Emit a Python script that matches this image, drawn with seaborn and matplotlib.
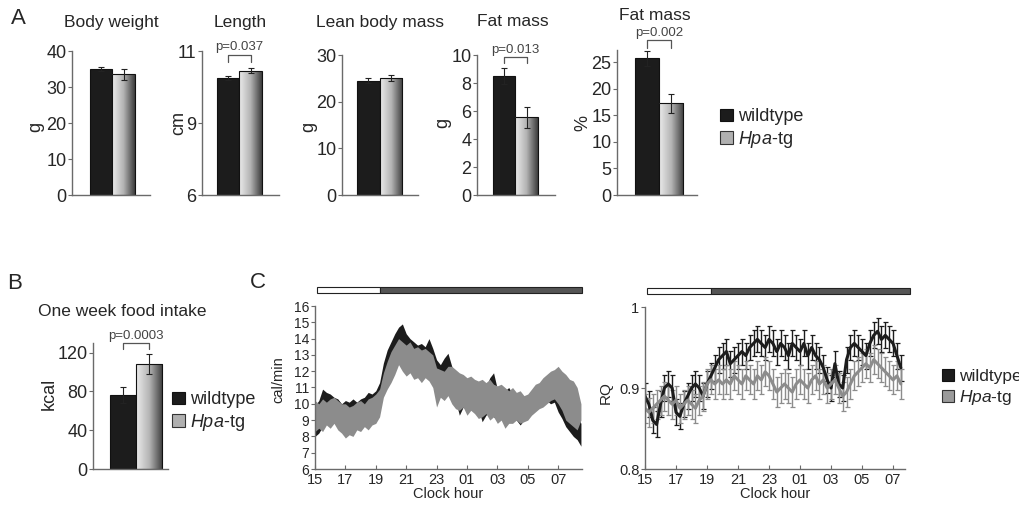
import numpy as np
import pandas as pd
import matplotlib
matplotlib.use('Agg')
import matplotlib.pyplot as plt
from matplotlib.patches import Rectangle, Patch
from matplotlib.colors import LinearSegmentedColormap
import seaborn as sns

# ---- data ----
groups = ['wildtype', 'Hpa-tg']

body_weight = [35.0, 33.5]
body_weight_sem = [0.6, 1.5]
length_cm = [10.06, 10.31]
length_sem = [0.07, 0.09]
lean_mass = [24.5, 25.1]
lean_mass_sem = [0.5, 0.7]
fat_mass_g = [8.5, 5.55]
fat_mass_g_sem = [0.55, 0.73]
fat_mass_pct = [25.7, 17.3]
fat_mass_pct_sem = [1.5, 1.8]
food_intake = [76.5, 108.5]
food_intake_sem = [8.0, 10.5]

# energy expenditure (cal/min), band limits every 15 min from 15:00 to 08:30
ee_hours = np.arange(15, 32.51, 0.25)
ee_wt_low = [8.0, 8.2, 8.6, 8.8, 8.9, 8.9, 8.7, 8.8, 8.9, 8.9, 8.8, 8.8, 9.0, 9.0, 9.1, 9.2,
             9.3, 10.0, 11.0, 11.8, 12.2, 12.6, 13.0, 12.8, 12.5, 12.6, 12.3, 12.4, 12.2, 12.4,
             12.3, 12.0, 11.0, 11.2, 11.5, 11.7, 10.8, 10.2, 9.3, 9.8, 9.6, 9.8, 9.5, 9.7, 8.9,
             9.3, 9.5, 9.2, 9.0, 9.4, 9.1, 9.3, 9.1, 9.0, 8.7, 9.0, 9.4, 9.6, 9.9, 10.0, 10.1,
             10.2, 10.0, 10.1, 9.5, 9.1, 8.6, 8.3, 8.0, 7.8, 7.4]
ee_wt_high = [9.9, 10.2, 10.9, 10.7, 10.6, 10.4, 10.3, 10.0, 10.2, 10.1, 10.3, 10.1, 10.3, 10.4,
              10.7, 10.6, 10.8, 11.3, 12.5, 13.3, 13.8, 14.3, 14.7, 14.9, 14.3, 14.0, 13.8, 13.6,
              13.7, 13.5, 14.0, 13.4, 12.7, 12.4, 12.8, 13.1, 12.3, 11.8, 11.5, 11.2, 11.3, 11.0,
              11.3, 11.0, 10.9, 11.0, 11.6, 11.9, 10.9, 11.0, 10.8, 11.0, 10.6, 10.4, 10.0, 10.2,
              10.5, 10.8, 11.0, 11.2, 11.3, 11.4, 11.5, 11.5, 11.2, 11.0, 10.5, 10.0, 9.6, 9.3, 8.8]
ee_tg_low = [8.3, 8.5, 8.3, 8.7, 8.5, 8.8, 8.4, 8.2, 7.9, 8.1, 8.0, 8.4, 8.3, 8.6, 8.4, 8.7,
             8.8, 9.2, 10.4, 10.9, 11.3, 11.8, 12.4, 12.0, 11.7, 11.9, 11.5, 11.6, 11.3, 11.6,
             11.4, 11.0, 9.8, 10.4, 10.2, 10.5, 10.0, 9.7, 9.6, 9.8, 9.3, 9.6, 9.4, 9.1, 9.2,
             9.4, 9.0, 9.2, 8.8, 9.0, 8.5, 8.8, 8.8, 9.0, 8.8, 8.9, 9.0, 9.3, 9.5, 9.7, 9.8,
             10.0, 10.2, 10.3, 10.0, 9.6, 9.0, 8.8, 8.6, 8.4, 9.0]
ee_tg_high = [10.2, 10.0, 10.3, 10.1, 10.3, 10.4, 10.2, 10.0, 10.0, 9.8, 9.9, 10.1, 10.2, 10.0,
              10.3, 10.4, 10.6, 10.9, 11.9, 12.6, 13.2, 13.6, 14.0, 13.8, 13.6, 13.8, 13.4, 13.5,
              13.3, 13.4, 13.2, 13.0, 12.2, 12.1, 12.0, 12.3, 12.3, 12.1, 11.9, 11.8, 11.6, 11.7,
              11.5, 11.4, 11.5, 11.3, 11.5, 11.2, 11.1, 11.2, 11.0, 10.8, 11.0, 10.7, 10.8, 10.5,
              10.6, 10.9, 11.2, 11.3, 11.6, 11.8, 12.0, 12.1, 12.3, 12.0, 11.8, 11.5, 11.4, 11.0, 10.0]

# respiratory quotient, every 15 min from 15:00 to 07:30
rq_hours = np.arange(15, 31.51, 0.25)
rq_wt = [0.89, 0.88, 0.86, 0.855, 0.88, 0.90, 0.905, 0.90, 0.87, 0.865, 0.88, 0.89, 0.90, 0.905,
         0.90, 0.89, 0.905, 0.915, 0.925, 0.935, 0.94, 0.945, 0.93, 0.935, 0.94, 0.945, 0.94, 0.95,
         0.955, 0.96, 0.955, 0.95, 0.96, 0.955, 0.945, 0.955, 0.95, 0.94, 0.955, 0.95, 0.945,
         0.955, 0.94, 0.95, 0.94, 0.935, 0.925, 0.91, 0.90, 0.93, 0.905, 0.90, 0.935, 0.95, 0.955,
         0.95, 0.945, 0.94, 0.955, 0.965, 0.97, 0.96, 0.965, 0.96, 0.955, 0.94, 0.925]
rq_tg = [0.875, 0.87, 0.875, 0.88, 0.885, 0.89, 0.885, 0.88, 0.885, 0.875, 0.88, 0.885, 0.88,
         0.875, 0.885, 0.89, 0.905, 0.91, 0.905, 0.91, 0.905, 0.91, 0.905, 0.915, 0.91, 0.905,
         0.915, 0.91, 0.905, 0.915, 0.91, 0.92, 0.915, 0.905, 0.895, 0.90, 0.905, 0.90, 0.895,
         0.905, 0.91, 0.905, 0.90, 0.91, 0.915, 0.905, 0.91, 0.90, 0.905, 0.91, 0.90, 0.89, 0.895,
         0.905, 0.915, 0.92, 0.925, 0.93, 0.925, 0.935, 0.93, 0.925, 0.92, 0.915, 0.91, 0.915, 0.905]
rq_wt_sem = 0.016
rq_tg_sem = 0.018

lights_off = 19.25

# ---- style ----
sns.set_theme(style='ticks')
plt.rcParams['font.family'] = ['Liberation Sans', 'DejaVu Sans']
plt.rcParams['mathtext.fontset'] = 'custom'
plt.rcParams['mathtext.rm'] = 'Liberation Sans'
plt.rcParams['mathtext.it'] = 'Liberation Sans:italic'

WT = '#1c1c1c'
TG = '#8c8c8c'
SPINE = '#6a6a6a'
hpa_cmap = LinearSegmentedColormap.from_list('hpa', ['#ececec', '#b4b4b4', '#3c3c3c'])

W, H = 1020, 511
fig = plt.figure(figsize=(W / 100, H / 100), dpi=100)


def px_axes(left, top, right, bottom):
    return fig.add_axes([left / W, 1 - bottom / H, (right - left) / W, (bottom - top) / H])


def style_axes(ax, labelsize):
    sns.despine(ax=ax)
    for side in ['left', 'bottom']:
        ax.spines[side].set_color(SPINE)
        ax.spines[side].set_linewidth(1.0)
    ax.tick_params(axis='y', direction='out', length=3, width=0.8, color=SPINE,
                   labelsize=labelsize, pad=1)
    ax.set_xlabel('')
    ax.set_ylabel('')


def bar_panel(ax, values, sems, ylim, yticks, xlim, yticklabels=None):
    df = pd.DataFrame({'group': groups, 'value': values})
    sns.barplot(data=df, x='group', y='value', hue='group', palette=[WT, '#999999'],
                width=1.0, edgecolor='#111111', linewidth=0.8, errorbar=None,
                legend=False, ax=ax)
    tg_bar = ax.patches[1]
    x0 = tg_bar.get_x()
    y0 = max(tg_bar.get_y(), ylim[0])
    y1 = tg_bar.get_y() + tg_bar.get_height()
    grad = np.linspace(0, 1, 256).reshape(1, -1)
    img = ax.imshow(grad, extent=[x0, x0 + tg_bar.get_width(), y0, y1],
                    aspect='auto', cmap=hpa_cmap, origin='lower', zorder=1.5)
    img.set_clip_path(tg_bar)
    tg_bar.set_facecolor('none')
    tg_bar.set_zorder(2)
    ax.errorbar([0, 1], values, yerr=sems, fmt='none', ecolor='#222222',
                elinewidth=0.8, capsize=2.5, capthick=0.8, zorder=3)
    ax.set_xlim(xlim)
    ax.set_ylim(ylim)
    ax.set_yticks(yticks)
    if yticklabels is not None:
        ax.set_yticklabels(yticklabels)
    style_axes(ax, 13)
    ax.tick_params(axis='x', bottom=False, labelbottom=False)


def bracket(ax, text, y_top, y_drop, y_text):
    trans = ax.get_xaxis_transform()
    ax.plot([0, 0, 1, 1], [y_drop, y_top, y_top, y_drop], transform=trans,
            color='#555555', lw=0.9, clip_on=False)
    ax.text(0.5, y_text, text, transform=trans, ha='center', va='center',
            fontsize=9.5, color='#444444')


def ftext(x, y, s, **kw):
    fig.text(x / W, 1 - y / H, s, ha='center', va='center', **kw)


def legend_at(x, y, tg_face, fontsize):
    handles = [Patch(facecolor=WT, edgecolor='#111111', lw=0.8),
               Patch(facecolor=tg_face, edgecolor='#333333', lw=0.8)]
    fig.legend(handles, ['wildtype', r'$\mathit{Hpa}$-tg'], loc='center left',
               bbox_to_anchor=(x / W, 1 - y / H), frameon=False, fontsize=fontsize,
               handlelength=0.7, handleheight=0.7, handletextpad=0.3,
               labelspacing=0.2, borderpad=0, borderaxespad=0)


# ---- panel A ----
ax1 = px_axes(72, 51, 150, 195)
bar_panel(ax1, body_weight, body_weight_sem, (0, 40), [0, 10, 20, 30, 40], (-1.3, 2.17))
ax2 = px_axes(202, 51, 279, 195)
bar_panel(ax2, length_cm, length_sem, (6, 11), [6, 8.5, 11], (-1.17, 2.26), ['6', '9', '11'])
bracket(ax2, 'p=0.037', 0.972, 0.924, 1.03)
ax3 = px_axes(342, 55, 418, 195)
bar_panel(ax3, lean_mass, lean_mass_sem, (0, 30), [0, 10, 20, 30], (-1.17, 2.21))
ax4 = px_axes(477, 55, 555, 195)
bar_panel(ax4, fat_mass_g, fat_mass_g_sem, (0, 10), [0, 2, 4, 6, 8, 10], (-1.21, 2.26))
bracket(ax4, 'p=0.013', 0.986, 0.943, 1.036)
ax5 = px_axes(617, 50, 697, 195)
bar_panel(ax5, fat_mass_pct, fat_mass_pct_sem, (0, 27.3), [0, 5, 10, 15, 20, 25], (-1.25, 2.08))
bracket(ax5, 'p=0.002', 1.069, 1.014, 1.117)

ftext(18, 18, 'A', fontsize=16)
ftext(111, 22, 'Body weight', fontsize=12.5)
ftext(240, 22, 'Length', fontsize=12.5)
ftext(380, 22, 'Lean body mass', fontsize=12.5)
ftext(513, 21, 'Fat mass', fontsize=12.5)
ftext(655, 16, 'Fat mass', fontsize=12.5)
ftext(36, 127, 'g', fontsize=13, rotation=90)
ftext(179, 123, 'cm', fontsize=13, rotation=90)
ftext(309, 127, 'g', fontsize=13, rotation=90)
ftext(443, 123, 'g', fontsize=13, rotation=90)
ftext(583, 123, '%', fontsize=13, rotation=90)
legend_at(720, 129, '#b0b0b0', 13)

# ---- panel B ----
axb = px_axes(93, 343, 168, 469)
bar_panel(axb, food_intake, food_intake_sem, (0, 130), [0, 40, 80, 120], (-1.15, 1.73))
bracket(axb, 'p=0.0003', 1.0, 0.952, 1.056)
ftext(15, 283, 'B', fontsize=16)
ftext(122, 312, 'One week food intake', fontsize=12.5)
ftext(49, 394, 'kcal', fontsize=13, rotation=90)
legend_at(172, 412, '#b0b0b0', 13)

# ---- panel C ----
hour_ticks = list(range(15, 32, 2))
hour_labels = [f'{h % 24:02d}' for h in hour_ticks]


def light_bar(ax, start, end):
    trans = ax.get_xaxis_transform()
    ax.add_patch(Rectangle((start, 1.08), lights_off - start, 0.037, transform=trans,
                           facecolor='white', edgecolor='#222222', lw=0.8, clip_on=False))
    ax.add_patch(Rectangle((lights_off, 1.08), end - lights_off, 0.037, transform=trans,
                           facecolor='#555555', edgecolor='#222222', lw=0.8, clip_on=False))


def time_axes(ax, xmax):
    ax.set_xlim(15, xmax)
    ax.set_xticks(hour_ticks)
    ax.set_xticklabels(hour_labels)
    style_axes(ax, 10)
    ax.tick_params(axis='x', direction='in', length=3, width=0.8, color=SPINE,
                   labelsize=10.5, pad=3)
    ax.set_xlabel('Clock hour', fontsize=10.5, labelpad=0)


axc1 = px_axes(315, 306, 582, 469)
axc1.fill_between(ee_hours, ee_wt_low, ee_wt_high, color=WT, lw=0)
axc1.fill_between(ee_hours, ee_tg_low, ee_tg_high, color=TG, lw=0)
time_axes(axc1, 32.57)
axc1.set_ylim(6, 16)
axc1.set_yticks(range(6, 17))
light_bar(axc1, 15.1, 32.57)

axc2 = px_axes(645, 307, 905, 469)
axc2.errorbar(rq_hours, rq_wt, yerr=rq_wt_sem, color=WT, lw=2.2, elinewidth=1.0,
              capsize=1.8, capthick=0.9)
axc2.errorbar(rq_hours, rq_tg, yerr=rq_tg_sem, color=TG, lw=2.2, elinewidth=1.0,
              capsize=1.8, capthick=0.9)
time_axes(axc2, 31.77)
axc2.set_ylim(0.8, 1.0)
axc2.set_yticks([0.8, 0.9, 1.0])
axc2.set_yticklabels(['0.8', '0.9', '1'])
axc2.tick_params(axis='y', labelsize=10.5)
light_bar(axc2, 15.1, 32.1)

ftext(258, 282, 'C', fontsize=16)
ftext(278, 380, 'cal/min', fontsize=10.5, rotation=90)
ftext(606, 393, 'RQ', fontsize=11, rotation=90)
legend_at(942, 388, '#9a9a9a', 12.5)

fig.savefig('out.png', dpi=100)
